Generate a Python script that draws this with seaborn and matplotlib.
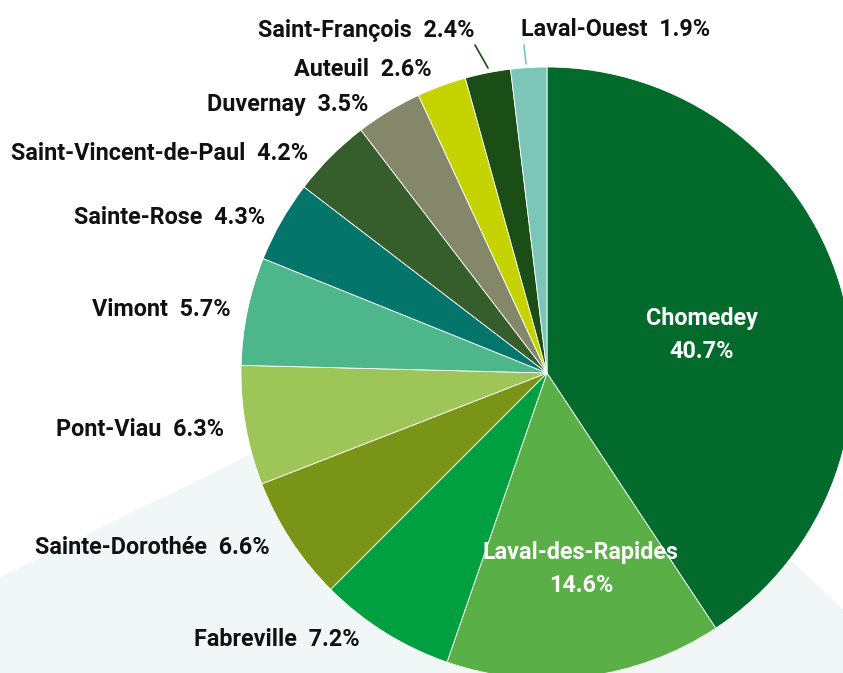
import matplotlib
matplotlib.use("Agg")
import matplotlib.pyplot as plt
import seaborn as sns
from matplotlib.patches import Polygon

names = ["Chomedey", "Laval-des-Rapides", "Fabreville", "Sainte-Dorothée", "Pont-Viau",
         "Vimont", "Sainte-Rose", "Saint-Vincent-de-Paul", "Duvernay", "Auteuil",
         "Saint-François", "Laval-Ouest"]
shares = [40.7, 14.6, 7.2, 6.6, 6.3, 5.7, 4.3, 4.2, 3.5, 2.6, 2.4, 1.9]
colors = ["#026b2c", "#5ab046", "#00a040", "#7a9418", "#9dc557", "#4db68b",
          "#03756b", "#365e2c", "#85876b", "#c5d401", "#1b4d17", "#7bc6b9"]

sns.set_theme(style="white")
plt.rcParams['font.family'] = ['Roboto', 'DejaVu Sans']
fs = 16.8

W, H = 843, 673
fig = plt.figure(figsize=(W / 100, H / 100), dpi=100)
ax = fig.add_axes([0, 0, 1, 1])

def Y(y):
    return H - y

bg = Polygon([(0, Y(577)), (532, Y(317)), (900, Y(663)), (900, Y(700)), (0, Y(700))],
             closed=True, facecolor="#f1f6f6", edgecolor="none", zorder=0)
ax.add_patch(bg)

cx, cy, r = 547, 373, 306
wedges, _ = ax.pie(shares, colors=colors, startangle=90, counterclock=False,
                   center=(cx, Y(cy)), radius=r, frame=True,
                   wedgeprops=dict(linewidth=0.6, edgecolor="white"))
for w in wedges:
    w.set_zorder(2)
ax.set_xlim(0, W)
ax.set_ylim(0, H)
ax.set_aspect("equal")
ax.axis("off")

outside = [
    (10, 475, 30, "right"),
    (11, 521, 30, "left"),
    (9, 432, 69, "right"),
    (8, 368, 105, "right"),
    (7, 308, 153, "right"),
    (6, 265, 217, "right"),
    (5, 231, 309, "right"),
    (4, 224, 430, "right"),
    (3, 270, 548, "right"),
    (2, 360, 640, "right"),
]
for i, x, y, ha in outside:
    ax.text(x, Y(y), f"{names[i]}  {shares[i]}%", ha=ha, va="center",
            fontsize=fs, fontweight="bold", color="#111111", zorder=5)

ax.plot([475, 488], [Y(45), Y(68)], color=colors[10], lw=1.2, zorder=3)
ax.plot([524, 526], [Y(45), Y(64)], color=colors[11], lw=1.2, zorder=3)

ax.text(702, Y(335), f"{names[0]}\n{shares[0]}%", ha="center", va="center",
        fontsize=fs, fontweight="bold", color="white", linespacing=1.6, zorder=5)
ax.text(581, Y(569), f"{names[1]}\n{shares[1]}%", ha="center", va="center",
        fontsize=fs, fontweight="bold", color="white", linespacing=1.6, zorder=5)

fig.savefig("out.png", dpi=100)
